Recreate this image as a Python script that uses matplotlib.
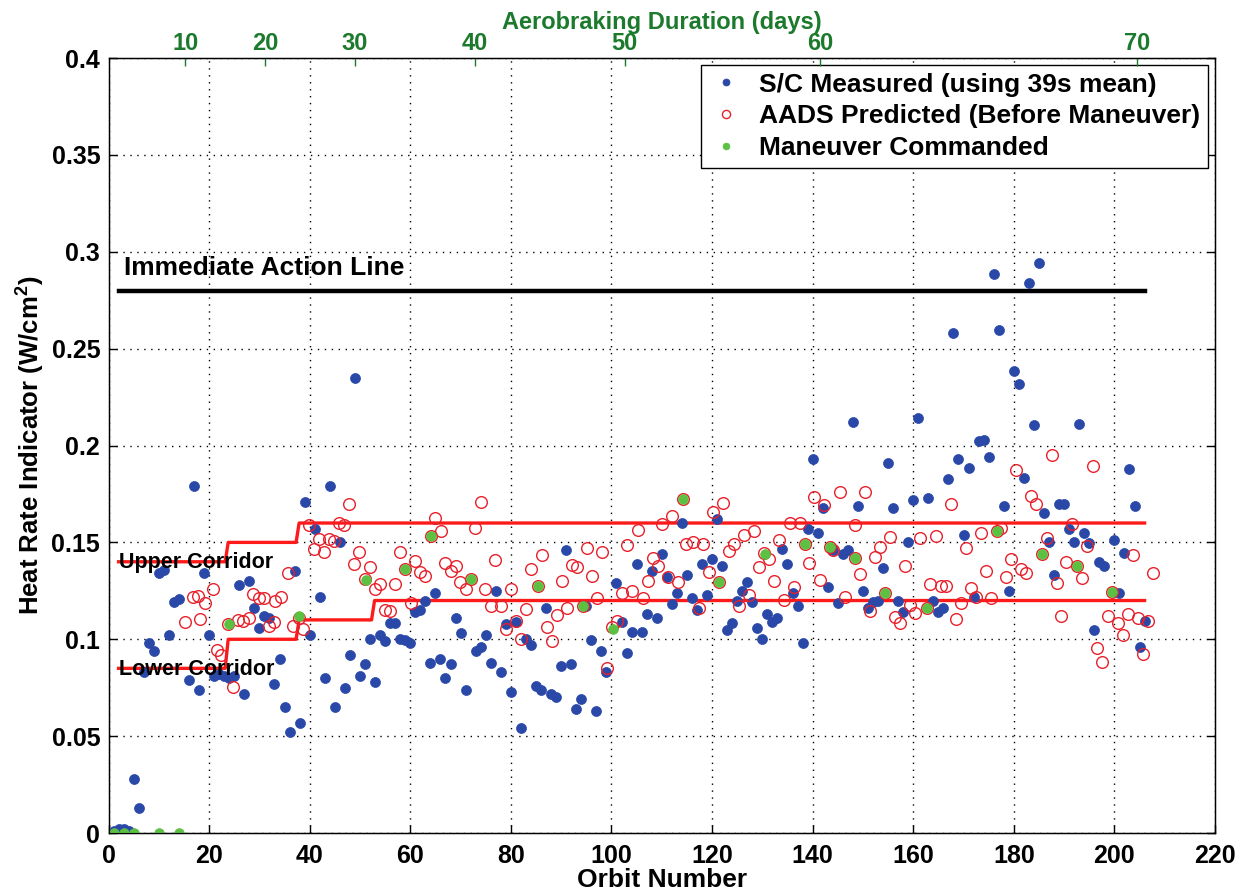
import matplotlib
matplotlib.use("Agg")
import matplotlib.pyplot as plt
import numpy as np

# ---------------- data ----------------
meas_orbit = [1, 2, 3, 4, 5, 6, 7, 8, 9, 10, 11, 12, 13, 14, 16, 17, 18, 19, 20, 21, 22, 23, 24, 25,
              26, 27, 28, 29, 30, 31, 32, 33, 34, 35, 36, 37, 38, 39, 40, 41, 42, 43, 44, 45, 46, 47,
              48, 49, 50, 51, 52, 53, 54, 55, 56, 57, 58, 59, 60, 61, 62, 63, 64, 65, 66, 67, 68, 69,
              70, 71, 73, 74, 75, 76, 77, 78, 79, 80, 81, 82, 83, 84, 85, 86, 87, 88, 89, 90, 91, 92,
              93, 94, 95, 96, 97, 98, 99, 101, 102, 103, 104, 105, 106, 107, 108, 109, 110, 111, 112,
              113, 114, 115, 116, 117, 118, 119, 120, 121, 122, 123, 124, 125, 126, 127, 128, 129, 130,
              131, 132, 133, 134, 135, 136, 137, 138, 139, 140, 141, 142, 143, 144, 145, 146, 147, 148,
              149, 150, 151, 152, 153, 154, 155, 156, 157, 158, 159, 160, 161, 163, 164, 165, 166, 167,
              168, 169, 170, 171, 172, 173, 174, 175, 176, 177, 178, 179, 180, 181, 182, 183, 184, 185,
              186, 187, 188, 189, 190, 191, 192, 193, 194, 195, 196, 197, 198, 200, 201, 202, 203, 204,
              205, 206]
meas_value = [0.001, 0.002, 0.002, 0.001, 0.028, 0.013, 0.083, 0.098, 0.094, 0.134, 0.136, 0.102, 0.119,
              0.121, 0.079, 0.179, 0.074, 0.134, 0.102, 0.081, 0.082, 0.081, 0.080, 0.081,
              0.128, 0.072, 0.130, 0.116, 0.106, 0.112, 0.111, 0.077, 0.090, 0.065, 0.052, 0.135, 0.057,
              0.171, 0.102, 0.157, 0.122, 0.080, 0.179, 0.065, 0.150, 0.075,
              0.092, 0.235, 0.081, 0.087, 0.100, 0.078, 0.102, 0.099, 0.1085, 0.1085, 0.100, 0.0995,
              0.098, 0.114, 0.115, 0.120, 0.088, 0.124, 0.090, 0.080, 0.087, 0.111,
              0.103, 0.074, 0.094, 0.096, 0.102, 0.088, 0.125, 0.083, 0.108, 0.073, 0.109, 0.054, 0.100,
              0.097, 0.076, 0.074, 0.116, 0.072, 0.070, 0.086, 0.146, 0.087,
              0.064, 0.069, 0.117, 0.0995, 0.063, 0.094, 0.083, 0.129, 0.109, 0.093, 0.104, 0.139, 0.104,
              0.113, 0.135, 0.111, 0.144, 0.132, 0.118,
              0.124, 0.160, 0.133, 0.1215, 0.115, 0.139, 0.123, 0.1415, 0.162, 0.138, 0.105, 0.1085,
              0.120, 0.125, 0.1295, 0.119, 0.106, 0.100,
              0.113, 0.109, 0.111, 0.1466, 0.139, 0.124, 0.117, 0.098, 0.157, 0.193, 0.155, 0.168, 0.127,
              0.146, 0.1185, 0.144, 0.146, 0.212,
              0.169, 0.125, 0.116, 0.119, 0.120, 0.137, 0.191, 0.168, 0.120, 0.114, 0.150, 0.172, 0.214,
              0.173, 0.120, 0.114, 0.116, 0.1825,
              0.258, 0.193, 0.154, 0.1885, 0.122, 0.2025, 0.203, 0.194, 0.2885, 0.2596, 0.169, 0.125,
              0.2386, 0.232, 0.183, 0.284, 0.2106, 0.294,
              0.165, 0.150, 0.133, 0.170, 0.170, 0.157, 0.150, 0.211, 0.155, 0.1496, 0.105, 0.140, 0.138,
              0.151, 0.124, 0.1445, 0.188, 0.169,
              0.096, 0.1095]

pred_orbit = [15.3, 16.8, 17.7, 18.1, 19.1, 20.7, 21.6, 22.4, 23.8, 24.8, 25.8, 26.8, 27.9, 28.7, 29.9,
              31.0, 31.9, 33.0, 33.2, 34.2, 35.7, 36.7, 37.8, 38.6, 39.8, 40.8, 41.8, 42.8, 43.8, 44.8,
              45.8, 46.9, 47.8, 48.9, 49.9, 50.9, 51.9, 53.0, 53.9, 55.0, 55.9, 56.9, 57.9, 59.0, 60.1,
              61.0, 62.0, 62.9, 64.2, 65.0, 66.1, 66.9, 68.0, 69.0, 69.9, 71.0, 72.0, 72.9, 74.0, 74.9,
              76.0, 76.9, 78.0, 79.0, 80.0, 81.0, 82.0, 83.0, 84.0, 85.3, 86.1, 87.1, 88.1, 89.1, 90.1,
              91.1, 92.1, 93.1, 94.3, 95.2, 96.2, 97.1, 98.1, 99.1, 100.1, 101.1, 102.1, 103.1, 104.1,
              105.3, 106.3, 107.2, 108.2, 109.2, 110.1, 111.2, 112.1, 113.2, 114.2, 114.9, 116.2, 117.4,
              118.2, 119.4, 120.2, 121.3, 122.2, 123.3, 124.3, 125.4, 126.3, 127.3, 128.3, 129.3, 130.3,
              131.4, 132.3, 133.3, 134.3, 135.4, 136.3, 137.4, 138.4, 139.3, 140.3, 141.4, 142.3, 143.4,
              144.0, 145.4, 146.4, 148.4, 148.4, 149.4, 150.4, 151.4, 152.4, 153.4, 154.4, 155.4, 156.4,
              157.4, 158.4, 159.4, 160.4, 161.4, 162.7, 163.4, 164.6, 165.5, 166.5, 167.5, 168.5, 169.5,
              170.4, 171.5, 172.5, 173.5, 174.5, 175.5, 176.6, 177.5, 178.5, 179.5, 180.4, 181.5, 182.5,
              183.5, 184.5, 185.6, 186.5, 187.6, 188.6, 189.4, 190.4, 191.6, 192.6, 193.6, 194.6, 195.7,
              196.5, 197.5, 198.7, 199.5, 200.7, 201.7, 202.7, 203.7, 204.7, 205.7, 206.7, 207.7]
pred_value = [0.109, 0.122, 0.1224, 0.1105, 0.1186, 0.1258, 0.0946, 0.0918, 0.108, 0.0753, 0.1097, 0.1092,
              0.111, 0.1232, 0.1215, 0.1215, 0.107, 0.109, 0.1198, 0.122, 0.1342, 0.1066, 0.111, 0.1054,
              0.1592, 0.1464, 0.152, 0.1453, 0.152, 0.1508, 0.160, 0.1592, 0.170, 0.139, 0.1453, 0.131,
              0.1371, 0.1258, 0.1283, 0.1153, 0.1144, 0.1283, 0.1449, 0.1364, 0.1186, 0.1402, 0.1347,
              0.1325, 0.1534, 0.1627, 0.1558, 0.1393, 0.1351, 0.1376, 0.1297, 0.1258, 0.1312, 0.1576,
              0.1707, 0.1258, 0.1173, 0.141, 0.1173, 0.1051, 0.1261, 0.1092, 0.1003, 0.1156, 0.1363,
              0.1275, 0.1436, 0.1063, 0.0991, 0.1125, 0.130, 0.1159, 0.1385, 0.1373, 0.117, 0.1473,
              0.1329, 0.1215, 0.1449, 0.0854, 0.1063, 0.1092, 0.1237, 0.1486, 0.1249, 0.1563, 0.1212,
              0.130, 0.1419, 0.1376, 0.1597, 0.1322, 0.1636, 0.1297, 0.1724, 0.149, 0.150, 0.1159,
              0.1492, 0.1346, 0.1656, 0.1295, 0.1702, 0.1456, 0.1492, 0.1173, 0.1537, 0.1227, 0.1558,
              0.1371, 0.1444, 0.1415, 0.130, 0.1512, 0.1203, 0.1602, 0.1269, 0.1602, 0.1492, 0.1393,
              0.1736, 0.1308, 0.1693, 0.1475, 0.1461, 0.1758, 0.122, 0.1588, 0.1419, 0.1337, 0.1761,
              0.1147, 0.1427, 0.1478, 0.1241, 0.1526, 0.1116, 0.1083, 0.1377, 0.1177, 0.1138, 0.1521,
              0.1164, 0.1285, 0.1533, 0.1274, 0.1274, 0.1698, 0.1105, 0.1189, 0.1469, 0.1267, 0.1219,
              0.1546, 0.1352, 0.1211, 0.1561, 0.1572, 0.132, 0.1414, 0.1874, 0.1365, 0.1343, 0.1739,
              0.1698, 0.1439, 0.1521, 0.1951, 0.1293, 0.1121, 0.1399, 0.1595, 0.1378, 0.1314, 0.1481,
              0.1894, 0.0957, 0.0883, 0.1120, 0.1246, 0.1082, 0.1022, 0.1128, 0.1436, 0.1108, 0.0925,
              0.1094, 0.1343]

man_orbit = [1, 3, 5, 10, 14, 23.9, 37.8, 51.1, 59.0, 64.2, 72.0, 85.3, 94.3, 100.4, 114.2, 121.3,
             130.6, 138.4, 143.4, 148.4, 154.4, 162.7, 176.6, 185.6, 192.6, 199.6]
man_value = [0, 0, 0, 0, 0, 0.108, 0.112, 0.1308, 0.1364, 0.1534, 0.1312, 0.1275, 0.117, 0.1051, 0.1724,
             0.1295, 0.1441, 0.1492, 0.1475, 0.1419, 0.1241, 0.1164, 0.1561, 0.1439, 0.1378, 0.1246]

upper_orbit = [2, 23.2, 23.8, 37.3, 37.9, 206]
upper_value = [0.14, 0.14, 0.15, 0.15, 0.16, 0.16]
lower_orbit = [2, 23.2, 23.8, 37.3, 37.9, 52.3, 52.9, 206]
lower_value = [0.085, 0.085, 0.10, 0.10, 0.11, 0.11, 0.12, 0.12]
action_orbit = [2, 206]
action_value = [0.28, 0.28]

day_labels = ["10", "20", "30", "40", "50", "60", "70"]
day_orbits = [15.3, 31.2, 49.0, 72.9, 102.6, 141.5, 204.5]

x_ticks = list(range(0, 221, 20))
y_ticks = [0, 0.05, 0.1, 0.15, 0.2, 0.25, 0.3, 0.35, 0.4]
y_tick_labels = ["0", "0.05", "0.1", "0.15", "0.2", "0.25", "0.3", "0.35", "0.4"]

# ---------------- style ----------------
plt.rcParams['font.family'] = ['Liberation Sans', 'DejaVu Sans']
plt.rcParams['font.weight'] = 'bold'
plt.rcParams['mathtext.fontset'] = 'custom'
plt.rcParams['mathtext.rm'] = 'Liberation Sans:bold'
plt.rcParams['mathtext.bf'] = 'Liberation Sans:bold'

BLUE = '#2a48a8'
RED = '#e8202a'
GREEN = '#5cc042'
DKGREEN = '#1c7a2c'

fig = plt.figure(figsize=(12.5, 8.94), dpi=100)
ax = fig.add_axes([0.0868, 0.0682, 0.8852, 0.8669])

ax.plot(meas_orbit, meas_value, 'o', color=BLUE, ms=7.2, mec=BLUE, mew=0.5, zorder=3,
        label='S/C Measured (using 39s mean)')
ax.plot(pred_orbit, pred_value, 'o', mfc='none', mec=RED, ms=8.4, mew=1.0, zorder=4,
        label='AADS Predicted (Before Maneuver)')
ax.plot(man_orbit, man_value, 'o', color=GREEN, mec=GREEN, ms=7.0, mew=0.5, zorder=5,
        label='Maneuver Commanded')

ax.plot(upper_orbit, upper_value, '-', color='#ff1a1a', lw=2.4, zorder=2)
ax.plot(lower_orbit, lower_value, '-', color='#ff1a1a', lw=2.4, zorder=2)
ax.plot(action_orbit, action_value, '-', color='black', lw=3.2, zorder=2)

ax.text(3, 0.2915, 'Immediate Action Line', fontsize=19, fontweight='bold', va='center', ha='left', zorder=6)
ax.text(2, 0.1394, 'Upper Corridor', fontsize=15.5, fontweight='bold', va='center', ha='left', zorder=6)
ax.text(2, 0.0842, 'Lower Corridor', fontsize=15.5, fontweight='bold', va='center', ha='left', zorder=6)

ax.set_xlim(0, 220)
ax.set_ylim(0, 0.4)
ax.set_xticks(x_ticks)
ax.set_yticks(y_ticks)
ax.set_yticklabels(y_tick_labels)
ax.tick_params(axis='both', direction='in', length=6, width=1, labelsize=18, top=True, right=True,
               pad=6)
ax.tick_params(axis='x', pad=8)
ax.grid(True, color='black', linestyle=(0, (1, 4)), linewidth=1.0)
ax.set_axisbelow(True)
for s in ax.spines.values():
    s.set_linewidth(1.0)

ax.set_xlabel('Orbit Number', fontsize=19, fontweight='bold', labelpad=0)
ax.set_ylabel(r'Heat Rate Indicator (W/cm$^{\mathbf{2}}$)', fontsize=18.5, fontweight='bold', labelpad=4)

ax2 = ax.twiny()
ax2.set_xlim(ax.get_xlim())
ax2.set_xticks(day_orbits)
ax2.set_xticklabels(day_labels, family=['Liberation Sans Narrow', 'Liberation Sans'],
                    fontsize=17, fontweight='bold', color=DKGREEN)
ax2.tick_params(axis='x', direction='in', length=6, width=1, color=DKGREEN, pad=2)
ax2.set_xlabel('Aerobraking Duration (days)', family=['Liberation Sans Narrow', 'Liberation Sans'],
               fontsize=17, fontweight='bold', color=DKGREEN, labelpad=2)

leg = ax.legend(loc='upper right', fontsize=19, frameon=True, fancybox=False, framealpha=1,
                edgecolor='black', markerscale=0.7, handlelength=1.3, handletextpad=0.6,
                labelspacing=0.3, borderaxespad=0.25, borderpad=0.3)
leg.get_frame().set_linewidth(1.0)
leg.set_zorder(10)

fig.savefig('out.png', dpi=100)
